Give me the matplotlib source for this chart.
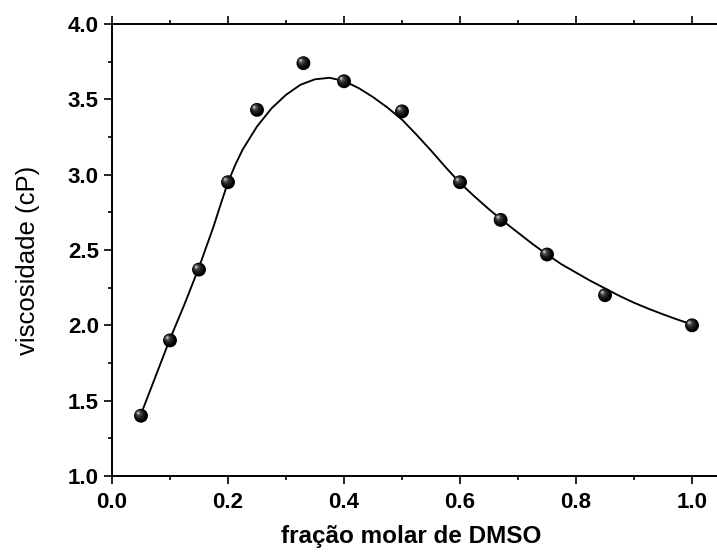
import matplotlib
matplotlib.use("Agg")
import matplotlib.pyplot as plt
import matplotlib.transforms as mtransforms

# Measured viscosity of the mixtures
fracao = [0.05, 0.10, 0.15, 0.20, 0.25, 0.33, 0.40, 0.50, 0.60, 0.67, 0.75, 0.85, 1.00]
viscosidade = [1.40, 1.90, 2.37, 2.95, 3.43, 3.74, 3.62, 3.42, 2.95, 2.70, 2.47, 2.20, 2.00]

# Fitted curve
ajuste_x = [0.05, 0.075, 0.10, 0.125, 0.15, 0.175, 0.1875, 0.20, 0.2125, 0.225,
            0.25, 0.275, 0.30, 0.325, 0.35, 0.375, 0.40, 0.425, 0.45, 0.475,
            0.50, 0.525, 0.55, 0.575, 0.60, 0.625, 0.65, 0.675, 0.70, 0.725,
            0.75, 0.775, 0.80, 0.825, 0.85, 0.875, 0.90, 0.925, 0.95, 0.975, 1.00]
ajuste_y = [1.41, 1.66, 1.91, 2.14, 2.385, 2.655, 2.805, 2.95, 3.065, 3.165,
            3.32, 3.44, 3.53, 3.597, 3.633, 3.643, 3.622, 3.575, 3.515, 3.445,
            3.365, 3.265, 3.16, 3.05, 2.945, 2.855, 2.77, 2.69, 2.615, 2.54,
            2.47, 2.405, 2.35, 2.295, 2.245, 2.195, 2.15, 2.11, 2.073, 2.038, 2.005]

x_ticks = [0.0, 0.2, 0.4, 0.6, 0.8, 1.0]
y_ticks = [1.0, 1.5, 2.0, 2.5, 3.0, 3.5, 4.0]

plt.rcParams["font.family"] = ["Liberation Sans", "DejaVu Sans"]

fig = plt.figure(figsize=(7.17, 5.56), dpi=100)
ax = fig.add_axes([112 / 717, 1 - 476 / 556, 605 / 717, 452 / 556])

ax.plot(ajuste_x, ajuste_y, color="black", lw=1.35, solid_joinstyle="round",
        zorder=2)

# shaded spheres: dark body with a highlight toward the upper left
layers = [(0.0, 0.0, 100, "#000000"),
          (-0.8, 0.8, 55, "#1a1a1a"),
          (-1.4, 1.4, 25, "#3c3c3c"),
          (-1.8, 1.8, 8, "#7a7a7a"),
          (-2.0, 2.0, 2.5, "#b8b8b8")]
for dx, dy, s, c in layers:
    tr = mtransforms.offset_copy(ax.transData, fig=fig, x=dx, y=dy, units="points")
    ax.scatter(fracao, viscosidade, s=s, color=c, edgecolors="none",
               transform=tr, zorder=3)

ax.set_xlim(0.0, 1.043)
ax.set_ylim(1.0, 4.0)
ax.set_xticks(x_ticks)
ax.set_yticks(y_ticks)
ax.set_xticklabels([f"{v:.1f}" for v in x_ticks])
ax.set_yticklabels([f"{v:.1f}" for v in y_ticks])
ax.set_xticks([0.1, 0.3, 0.5, 0.7, 0.9], minor=True)
ax.set_yticks([1.25, 1.75, 2.25, 2.75, 3.25, 3.75], minor=True)

for side in ("left", "bottom", "top"):
    ax.spines[side].set_linewidth(1.4)
ax.spines["right"].set_visible(False)

ax.tick_params(which="both", direction="out", width=1.2, top=True, right=False,
               labeltop=False, labelsize=16)
ax.tick_params(which="major", length=5.5, pad=6)
ax.tick_params(which="minor", length=3)
ax.tick_params(axis="y", which="major", pad=4)
for lab in ax.get_xticklabels() + ax.get_yticklabels():
    lab.set_fontweight("bold")

ax.set_xlabel("fração molar de DMSO", fontsize=17.5, fontweight="bold")
ax.set_ylabel("viscosidade (cP)", fontsize=18.5)
ax.xaxis.set_label_coords(0.494, -0.108)
ax.yaxis.set_label_coords(-0.119, 0.478)

fig.savefig("out.png", dpi=100)
